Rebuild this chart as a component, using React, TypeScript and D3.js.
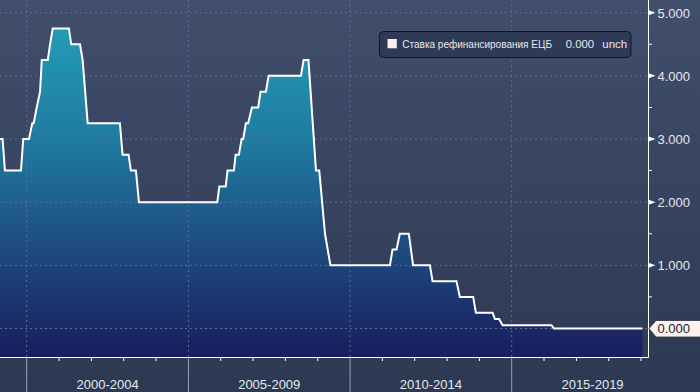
import React from "react";
import * as d3 from "d3";

const rateDates = [
  "1999-03-06", "1999-04-04", "1999-04-30", "1999-10-28", "1999-11-23",
  "2000-01-27", "2000-03-04", "2000-03-20", "2000-04-23", "2000-05-31",
  "2000-06-19", "2000-08-26", "2000-09-21", "2000-10-21", "2001-04-22",
  "2001-05-18", "2001-08-25", "2001-09-24", "2001-11-20", "2002-11-19",
  "2002-12-19", "2003-02-25", "2003-03-23", "2003-05-19", "2003-06-22",
  "2005-11-23", "2005-12-16", "2006-02-26", "2006-03-19", "2006-05-30",
  "2006-06-18", "2006-07-25", "2006-08-25", "2006-09-12", "2006-10-12",
  "2006-11-07", "2006-12-19", "2007-02-28", "2007-03-27", "2007-05-26",
  "2007-06-26", "2008-06-25", "2008-07-25", "2008-09-18", "2008-12-12",
  "2009-01-18", "2009-03-24", "2009-05-24", "2011-03-27", "2011-04-26",
  "2011-06-10", "2011-07-17", "2011-10-27", "2011-12-14", "2012-06-21",
  "2012-07-21", "2013-04-17", "2013-05-25", "2013-10-23", "2013-11-22",
  "2014-05-30", "2014-06-25", "2014-08-12", "2014-09-20", "2016-03-26",
  "2016-04-21", "2019-01-18",
];
const rateValues = [
  3.0, 3.0, 2.5, 2.5, 3.0,
  3.0, 3.25, 3.25, 3.5, 3.75,
  4.25, 4.25, 4.5, 4.75, 4.75,
  4.5, 4.5, 4.25, 3.25, 3.25,
  2.75, 2.75, 2.5, 2.5, 2.0,
  2.0, 2.25, 2.25, 2.5, 2.5,
  2.75, 2.75, 3.0, 3.0, 3.25,
  3.25, 3.5, 3.5, 3.75, 3.75,
  4.0, 4.0, 4.25, 4.25, 2.5,
  2.5, 1.5, 1.0, 1.0, 1.25,
  1.25, 1.5, 1.5, 1.0, 1.0,
  0.75, 0.75, 0.5, 0.5, 0.25,
  0.25, 0.15, 0.15, 0.05, 0.05,
  0.0, 0.0,
];

const yTicks = [0, 1, 2, 3, 4, 5];
const yMinorTicks = [0.5, 1.5, 2.5, 3.5, 4.5];
const periodStarts = ["2000-01-01", "2005-01-01", "2010-01-01", "2015-01-01"];
const periodLabels = ["2000-2004", "2005-2009", "2010-2014", "2015-2019"];
const yearTicks = [
  "2001", "2002", "2003", "2004", "2006", "2007", "2008", "2009",
  "2011", "2012", "2013", "2014", "2016", "2017", "2018", "2019",
];
const legendLabel = "Ставка рефинансирования ЕЦБ";
const legendValue = "0.000";
const legendChange = "unch";
const lastLabel = "0.000";

const W = 700;
const H = 392;
const plotRight = 648.5;
const plotBottom = 357.5;
const FONT = "'Liberation Sans', Arial, sans-serif";

export default function App() {
  const x = d3
    .scaleUtc()
    .domain([new Date("2000-01-01"), new Date("2015-01-01")])
    .range([26.7, 511.7]);
  const y = d3.scaleLinear().domain([0, 5]).range([328.5, 12.7]);

  const data = rateDates.map((d, i) => ({ date: new Date(d), value: rateValues[i] }));

  const area = d3
    .area<{ date: Date; value: number }>()
    .x((d) => x(d.date))
    .y0(plotBottom)
    .y1((d) => y(d.value));
  const line = d3
    .line<{ date: Date; value: number }>()
    .x((d) => x(d.date))
    .y((d) => y(d.value));

  const gridColor = "#5f6f90";
  const textColor = "#e6e8ee";

  return (
    <svg
      width={W}
      height={H}
      style={{ position: "absolute", left: 0, top: 0, display: "block" }}
      fontFamily={FONT}
    >
      <defs>
        <linearGradient id="bg" x1="0" y1="0" x2="0" y2={H} gradientUnits="userSpaceOnUse">
          <stop offset="0" stopColor="#414e6c" />
          <stop offset="1" stopColor="#2d3953" />
        </linearGradient>
        <linearGradient id="fill" x1="0" y1="0" x2="0" y2={plotBottom} gradientUnits="userSpaceOnUse">
          <stop offset="0" stopColor="#24a3bb" />
          <stop offset="0.4" stopColor="#1f7aa0" />
          <stop offset="0.7" stopColor="#1e4a80" />
          <stop offset="1" stopColor="#1a1d5d" />
        </linearGradient>
        <clipPath id="plotClip">
          <rect x={0} y={0} width={plotRight} height={plotBottom} />
        </clipPath>
      </defs>

      <rect x={0} y={0} width={W} height={H} fill="url(#bg)" />

      <g clipPath="url(#plotClip)">
        <path d={area(data) || ""} fill="url(#fill)" />
        {yTicks.map((t) => (
          <line
            key={"gy" + t}
            x1={0}
            x2={plotRight}
            y1={y(t)}
            y2={y(t)}
            stroke={gridColor}
            strokeWidth={1}
            strokeDasharray="2,3"
          />
        ))}
        {periodStarts.map((p) => (
          <line
            key={"gx" + p}
            x1={x(new Date(p))}
            x2={x(new Date(p))}
            y1={0}
            y2={plotBottom}
            stroke={gridColor}
            strokeWidth={1}
            strokeDasharray="2,3"
          />
        ))}
        <path d={line(data) || ""} fill="none" stroke="#ffffff" strokeWidth={2} />
      </g>

      {/* x axis */}
      <line x1={0} x2={plotRight} y1={plotBottom} y2={plotBottom} stroke="#ffffff" strokeWidth={1} />
      {yearTicks.map((yr) => (
        <line
          key={"yt" + yr}
          x1={x(new Date(yr + "-01-01"))}
          x2={x(new Date(yr + "-01-01"))}
          y1={plotBottom}
          y2={plotBottom + 3.5}
          stroke="#ffffff"
          strokeWidth={1}
        />
      ))}
      {periodStarts.map((p) => (
        <line
          key={"sep" + p}
          x1={x(new Date(p))}
          x2={x(new Date(p))}
          y1={plotBottom}
          y2={H}
          stroke="#9aa3b6"
          strokeWidth={1}
        />
      ))}
      {periodLabels.map((lab, i) => {
        const a = x(new Date(periodStarts[i]));
        const b = i + 1 < periodStarts.length ? x(new Date(periodStarts[i + 1])) : x(new Date("2020-01-01"));
        return (
          <text key={lab} x={(a + b) / 2} y={389} textAnchor="middle" fontSize={13} fill={textColor}>
            {lab}
          </text>
        );
      })}

      {/* y axis */}
      <line x1={plotRight} x2={plotRight} y1={0} y2={plotBottom} stroke="#ffffff" strokeWidth={1} />
      {yMinorTicks.map((t) => (
        <line key={"ym" + t} x1={plotRight} x2={plotRight + 3.5} y1={y(t)} y2={y(t)} stroke="#ffffff" strokeWidth={1} />
      ))}
      {yTicks
        .filter((t) => t > 0)
        .map((t) => (
          <g key={"yl" + t}>
            <path
              d={`M${plotRight},${y(t) - 2.5}L${plotRight + 7},${y(t)}L${plotRight},${y(t) + 2.5}Z`}
              fill="#ffffff"
            />
            <text x={657.5} y={y(t) + 4.8} fontSize={13} fill={textColor}>
              {d3.format(".3f")(t)}
            </text>
          </g>
        ))}

      {/* last value callout */}
      {(() => {
        const yy = y(rateValues[rateValues.length - 1]);
        return (
          <g>
            <path
              d={`M${plotRight + 0.5},${yy}L${656},${yy - 8}L${W + 2},${yy - 8}L${W + 2},${yy + 8.5}L${656},${yy + 8.5}Z`}
              fill="#fdf3ec"
              stroke="#2a3048"
              strokeWidth={0.8}
            />
            <text x={657.5} y={yy + 4.8} fontSize={13} fill="#1c2030">
              {lastLabel}
            </text>
          </g>
        );
      })()}

      {/* legend */}
      <g>
        <rect x={379.5} y={31.5} width={251.5} height={26} rx={4} ry={4} fill="#2f3a57" stroke="#0e1424" strokeWidth={1} />
        <rect x={387.5} y={39} width={9.3} height={9.3} fill="#fdf0ec" />
        <text transform="translate(402.3,48.3) scale(0.88,1)" fontSize={11.4} fill={textColor}>
          {legendLabel}
        </text>
        <text x={565.7} y={48.3} fontSize={11.4} fill={textColor}>
          {legendValue}
        </text>
        <text x={602.3} y={48.3} fontSize={11.4} fill={textColor}>
          {legendChange}
        </text>
      </g>
    </svg>
  );
}
